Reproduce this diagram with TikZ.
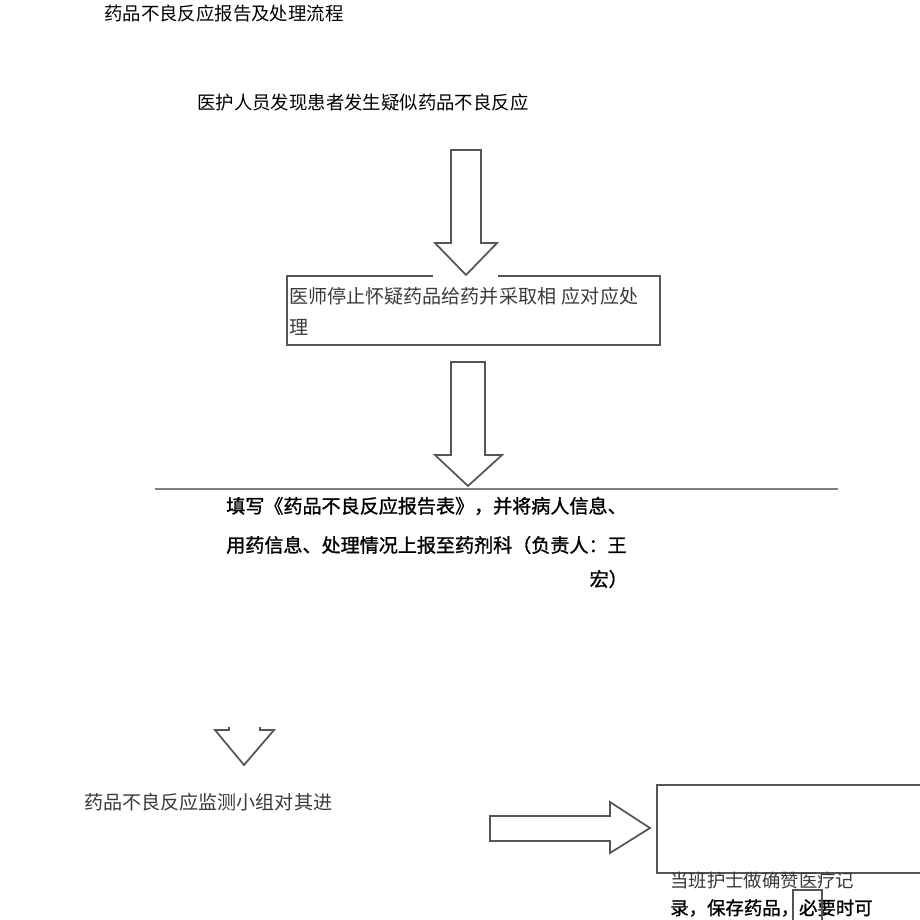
\documentclass[tikz,border=0pt]{standalone}
\usepackage{fontspec}
\setmainfont{Noto Sans CJK SC}
\newfontfamily\cjkb{Noto Sans CJK SC}[FakeBold=1.2]
\definecolor{lightink}{HTML}{3A3A3A}
\definecolor{edge}{HTML}{555555}
\definecolor{rule}{HTML}{808080}
\begin{document}
\begin{tikzpicture}[x=0.75pt,y=-0.75pt,
  txt/.style={inner sep=0pt,anchor=west,font=\fontsize{13.8pt}{16pt}\selectfont},
  btxt/.style={txt,font=\fontsize{14.3pt}{16pt}\selectfont\cjkb},
  ltxt/.style={txt,text=lightink},
  lbtxt/.style={ltxt,font=\fontsize{14.3pt}{16pt}\selectfont},
  blockarrow/.style={draw=edge,fill=white,line width=1.3pt,line join=miter},
  boxline/.style={draw=edge,line width=1pt}]
\useasboundingbox (0,0) rectangle (920,920);
\clip (0,0) rectangle (920,920);

% title and first step
\node[txt] (title) at (104,14) {药品不良反应报告及处理流程};
\node[txt] (s1) at (197,102) {医护人员发现患者发生疑似药品不良反应};

% box 2
\draw[boxline] (287,276) rectangle (660,345);
\node[lbtxt] (s2a) at (289,296) {医师停止怀疑药品给药并采取相\hspace{0.3em}应对应处};
\node[lbtxt] (s2b) at (289,327) {理};

% arrow 1
\fill[white] (433,272) rectangle (498,279);
\draw[blockarrow] (451,150) -- (481,150) -- (481,243) -- (497,243) -- (466,275) -- (435,243) -- (451,243) -- cycle;

% arrow 2
\draw[blockarrow] (451,362) -- (485,362) -- (485,455) -- (502,455) -- (468,486) -- (435,455) -- (451,455) -- cycle;

% horizontal rule
\draw[draw=rule,line width=1.9pt] (155,489) -- (838,489);

% report text
\node[btxt] (s3a) at (226,506) {填写《药品不良反应报告表》，并将病人信息、};
\node[btxt] (s3b) at (226,545) {用药信息、处理情况上报至药剂科（负责人：王};
\node[btxt,anchor=east] (s3c) at (628,579) {宏）};

% small chevron
\draw[draw=edge,line width=1.3pt,line join=miter] (229,727) -- (229,730) -- (215,730) -- (244,765) -- (274,730) -- (260,730) -- (260,727);

% monitoring group text
\node[lbtxt] (s4) at (84,802) {药品不良反应监测小组对其进};

% right arrow
\draw[blockarrow] (490,816) -- (610,816) -- (610,802) -- (650,828) -- (610,853) -- (610,841) -- (490,841) -- cycle;

% right box
\draw[boxline] (657,785) rectangle (930,873);

% nurse text
\node[ltxt] (s5a) at (670,880) {当班护士做确赞医疗记};
\node[btxt,font=\fontsize{13.8pt}{16pt}\selectfont\cjkb] (s5b) at (670,908) {录，保存药品，必要时可};
\draw[boxline] (793,930) -- (793,890) -- (822,890) -- (822,930);
\end{tikzpicture}
\end{document}
